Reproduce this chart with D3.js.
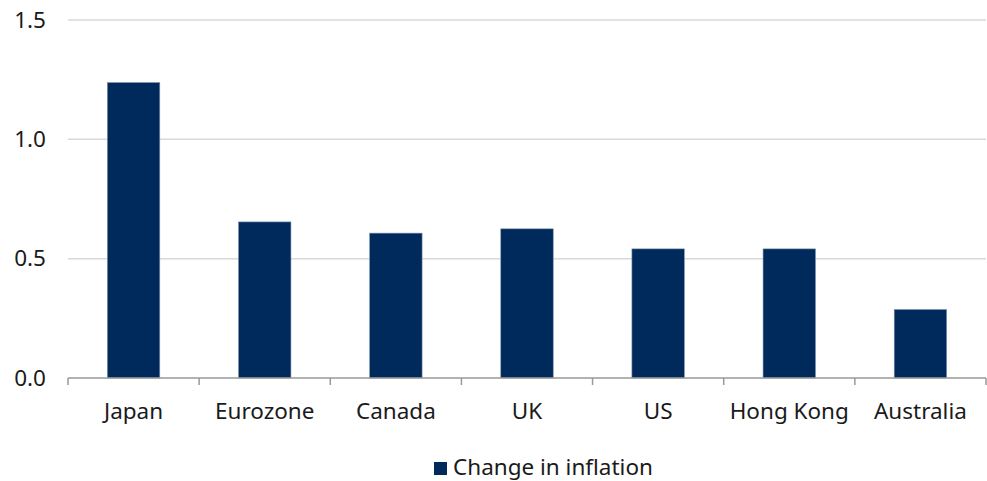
<!DOCTYPE html>
<html>
<head>
<meta charset="utf-8">
<script src="https://cdn.jsdelivr.net/npm/d3@7"></script>
<style>
  body { margin: 0; background: #fff; }
  text { font-family: "Noto Sans", "Open Sans", sans-serif; fill: #1a1a1a; }
</style>
</head>
<body>
<div class="chart"></div>
<script>
// data
var countries = ["Japan", "Eurozone", "Canada", "UK", "US", "Hong Kong", "Australia"];
var inflationChange = [1.238, 0.654, 0.607, 0.625, 0.541, 0.541, 0.287];
var yTicks = [0, 0.5, 1.0, 1.5];
var seriesName = "Change in inflation";

var W = 987, H = 481;
var margin = {top: 20, right: 1, bottom: 103, left: 68};
var width = W - margin.left - margin.right,
    height = H - margin.top - margin.bottom;

var svg = d3.select(".chart").append("svg")
    .attr("width", W)
    .attr("height", H);

var g = svg.append("g")
    .attr("transform", "translate(" + margin.left + "," + margin.top + ")");

var x = d3.scaleBand()
    .domain(countries)
    .range([0, width])
    .paddingInner(0.6)
    .paddingOuter(0.3);

var y = d3.scaleLinear()
    .domain([0, 1.5])
    .range([height, 0]);

// gridlines
g.selectAll(".grid")
    .data(yTicks.filter(function(d) { return d > 0; }))
    .enter()
    .append("line")
    .attr("x1", 0)
    .attr("x2", width)
    .attr("y1", function(d) { return y(d); })
    .attr("y2", function(d) { return y(d); })
    .attr("stroke", "#d9d9d9")
    .attr("stroke-width", 1.5);

// y labels
var yAxis = g.append("g")
    .call(d3.axisLeft(y).tickValues(yTicks).tickFormat(d3.format(".1f")).tickSize(0).tickPadding(22));
yAxis.select(".domain").remove();
yAxis.selectAll("text").style("font-size", "22.5px").attr("fill", "#1a1a1a");

// bars
g.selectAll(".bar")
    .data(countries)
    .enter()
    .append("rect")
    .attr("class", "bar")
    .attr("x", function(d) { return x(d); })
    .attr("width", x.bandwidth())
    .attr("y", function(d, i) { return y(inflationChange[i]); })
    .attr("height", function(d, i) { return height - y(inflationChange[i]); })
    .attr("fill", "#002a5c")
    .attr("stroke", "#7f93ad")
    .attr("stroke-width", 0.6);

// x axis with ticks between categories
var xAxis = g.append("g")
    .attr("transform", "translate(0," + height + ")");
xAxis.append("line")
    .attr("x1", 0).attr("x2", width)
    .attr("stroke", "#999").attr("stroke-width", 1.5);
xAxis.selectAll(".tick")
    .data(d3.range(countries.length + 1))
    .enter()
    .append("line")
    .attr("x1", function(d) { return d * width / countries.length; })
    .attr("x2", function(d) { return d * width / countries.length; })
    .attr("y1", 0).attr("y2", 7)
    .attr("stroke", "#999").attr("stroke-width", 1.5);
xAxis.selectAll(".lbl")
    .data(countries)
    .enter()
    .append("text")
    .attr("x", function(d) { return x(d) + x.bandwidth() / 2; })
    .attr("y", 41)
    .attr("text-anchor", "middle")
    .style("font-size", "22.5px")
    .text(function(d) { return d; });

// legend
var legend = svg.append("g").attr("transform", "translate(434,462)");
legend.append("rect")
    .attr("width", 13).attr("height", 13)
    .attr("fill", "#002a5c");
legend.append("text")
    .attr("x", 19).attr("y", 13)
    .style("font-size", "22.5px")
    .text(seriesName);
</script>
</body>
</html>
